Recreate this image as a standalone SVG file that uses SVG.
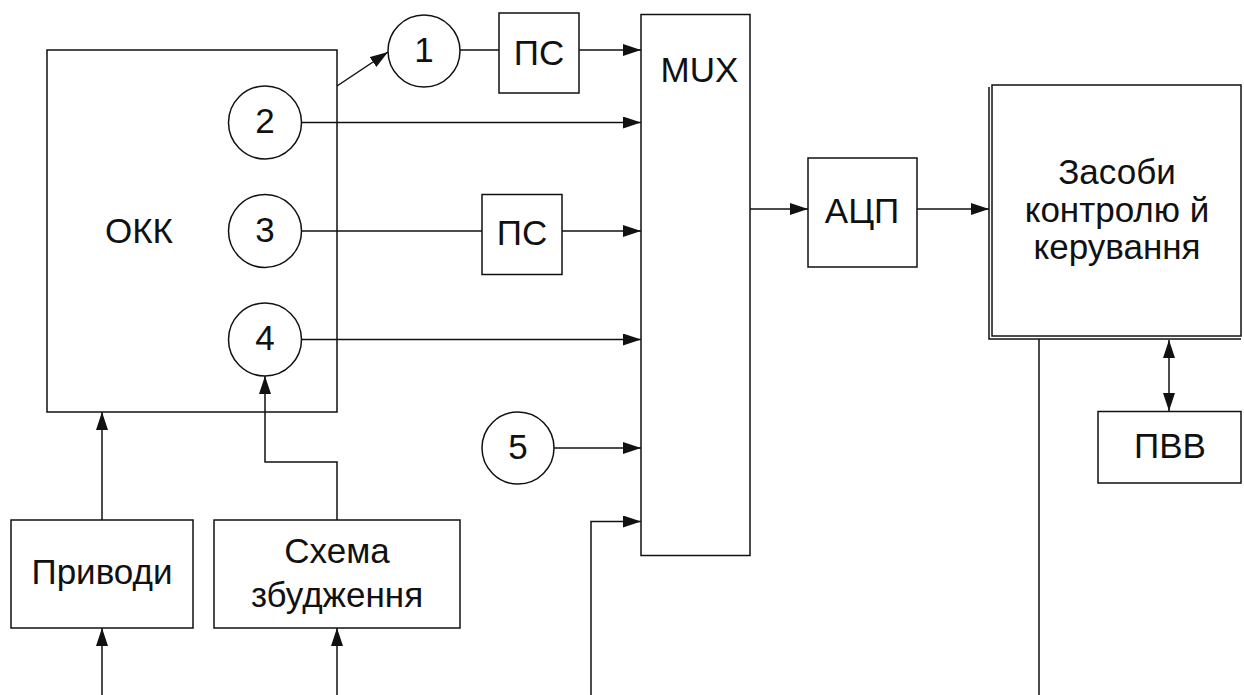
<svg xmlns="http://www.w3.org/2000/svg" width="1244" height="695" viewBox="0 0 1244 695">
<style>
.b{fill:#fff;stroke:#111;stroke-width:1.5}
.c{fill:none;stroke:#111;stroke-width:1.5}
.a{marker-end:url(#ah)}
text{font-family:"Liberation Sans",Arial,sans-serif;font-size:35px;fill:#111;text-anchor:middle}
</style>
<defs>
<marker id="ah" markerUnits="userSpaceOnUse" markerWidth="18" markerHeight="12" refX="18" refY="6" orient="auto-start-reverse" viewBox="0 0 18 12">
<path d="M0,0 L18,6 L0,12 z" fill="#111"/>
</marker>
</defs>
<rect width="1244" height="695" fill="#fff"/>
<g id="okk"><rect class="b" x="47" y="50" width="290" height="362"/><text x="139" y="243">ОКК</text></g>
<g id="connectors">
<path class="c a" d="M337,86 L388,52"/>
<path class="c" d="M460,50 H499"/>
<path class="c a" d="M579,50 H641"/>
<path class="c a" d="M302,122.5 H641"/>
<path class="c" d="M302,231 H482"/>
<path class="c a" d="M562,231 H641"/>
<path class="c a" d="M302,339.5 H641"/>
<path class="c a" d="M554,448 H641"/>
<path class="c a" d="M591,695 V521.5 H641"/>
<path class="c a" d="M750,209 H808"/>
<path class="c a" d="M917,209 H989"/>
<path class="c a" d="M102,520 V412"/>
<path class="c a" d="M337,520 V462 H265 V376"/>
<path class="c a" d="M102,695 V628"/>
<path class="c a" d="M337,695 V628"/>
<path class="c" d="M1039,339 V695"/>
<path class="c a" d="M1169,411 V340" style="marker-start:url(#ah)"/>
</g>
<g id="n1"><circle class="b" cx="424" cy="51" r="36"/><text x="424" y="61.5">1</text></g>
<g id="n2"><circle class="b" cx="265" cy="122.5" r="36.5"/><text x="265" y="133">2</text></g>
<g id="n3"><circle class="b" cx="265" cy="231" r="36.5"/><text x="265" y="241.5">3</text></g>
<g id="n4"><circle class="b" cx="265" cy="339.5" r="36.5"/><text x="265" y="350">4</text></g>
<g id="n5"><circle class="b" cx="518" cy="448" r="36"/><text x="518" y="458.5">5</text></g>
<g id="ps1"><rect class="b" x="499" y="13" width="80" height="80"/><text x="539" y="65">ПС</text></g>
<g id="ps2"><rect class="b" x="482" y="194.5" width="80" height="80"/><text x="522" y="245">ПС</text></g>
<g id="mux"><rect class="b" x="641" y="14.5" width="109" height="541"/><text x="699.5" y="82">MUX</text></g>
<g id="adc"><rect class="b" x="808" y="158" width="109" height="109"/><text x="862" y="223">АЦП</text></g>
<g id="control">
<path class="c" d="M989,87 V339 H1241"/>
<rect class="b" x="992" y="85" width="249" height="251"/>
<text x="1117" y="183.5">Засоби</text>
<text x="1117" y="221.5">контролю й</text>
<text x="1117" y="258.5">керування</text>
</g>
<g id="pvv"><rect class="b" x="1098" y="411.5" width="143" height="71.5"/><text x="1170" y="458">ПВВ</text></g>
<g id="drives"><rect class="b" x="11" y="520" width="182" height="108"/><text x="102" y="584">Приводи</text></g>
<g id="excite"><rect class="b" x="214" y="520" width="246" height="108"/><text x="337" y="563">Схема</text><text x="337" y="607">збудження</text></g>
</svg>
